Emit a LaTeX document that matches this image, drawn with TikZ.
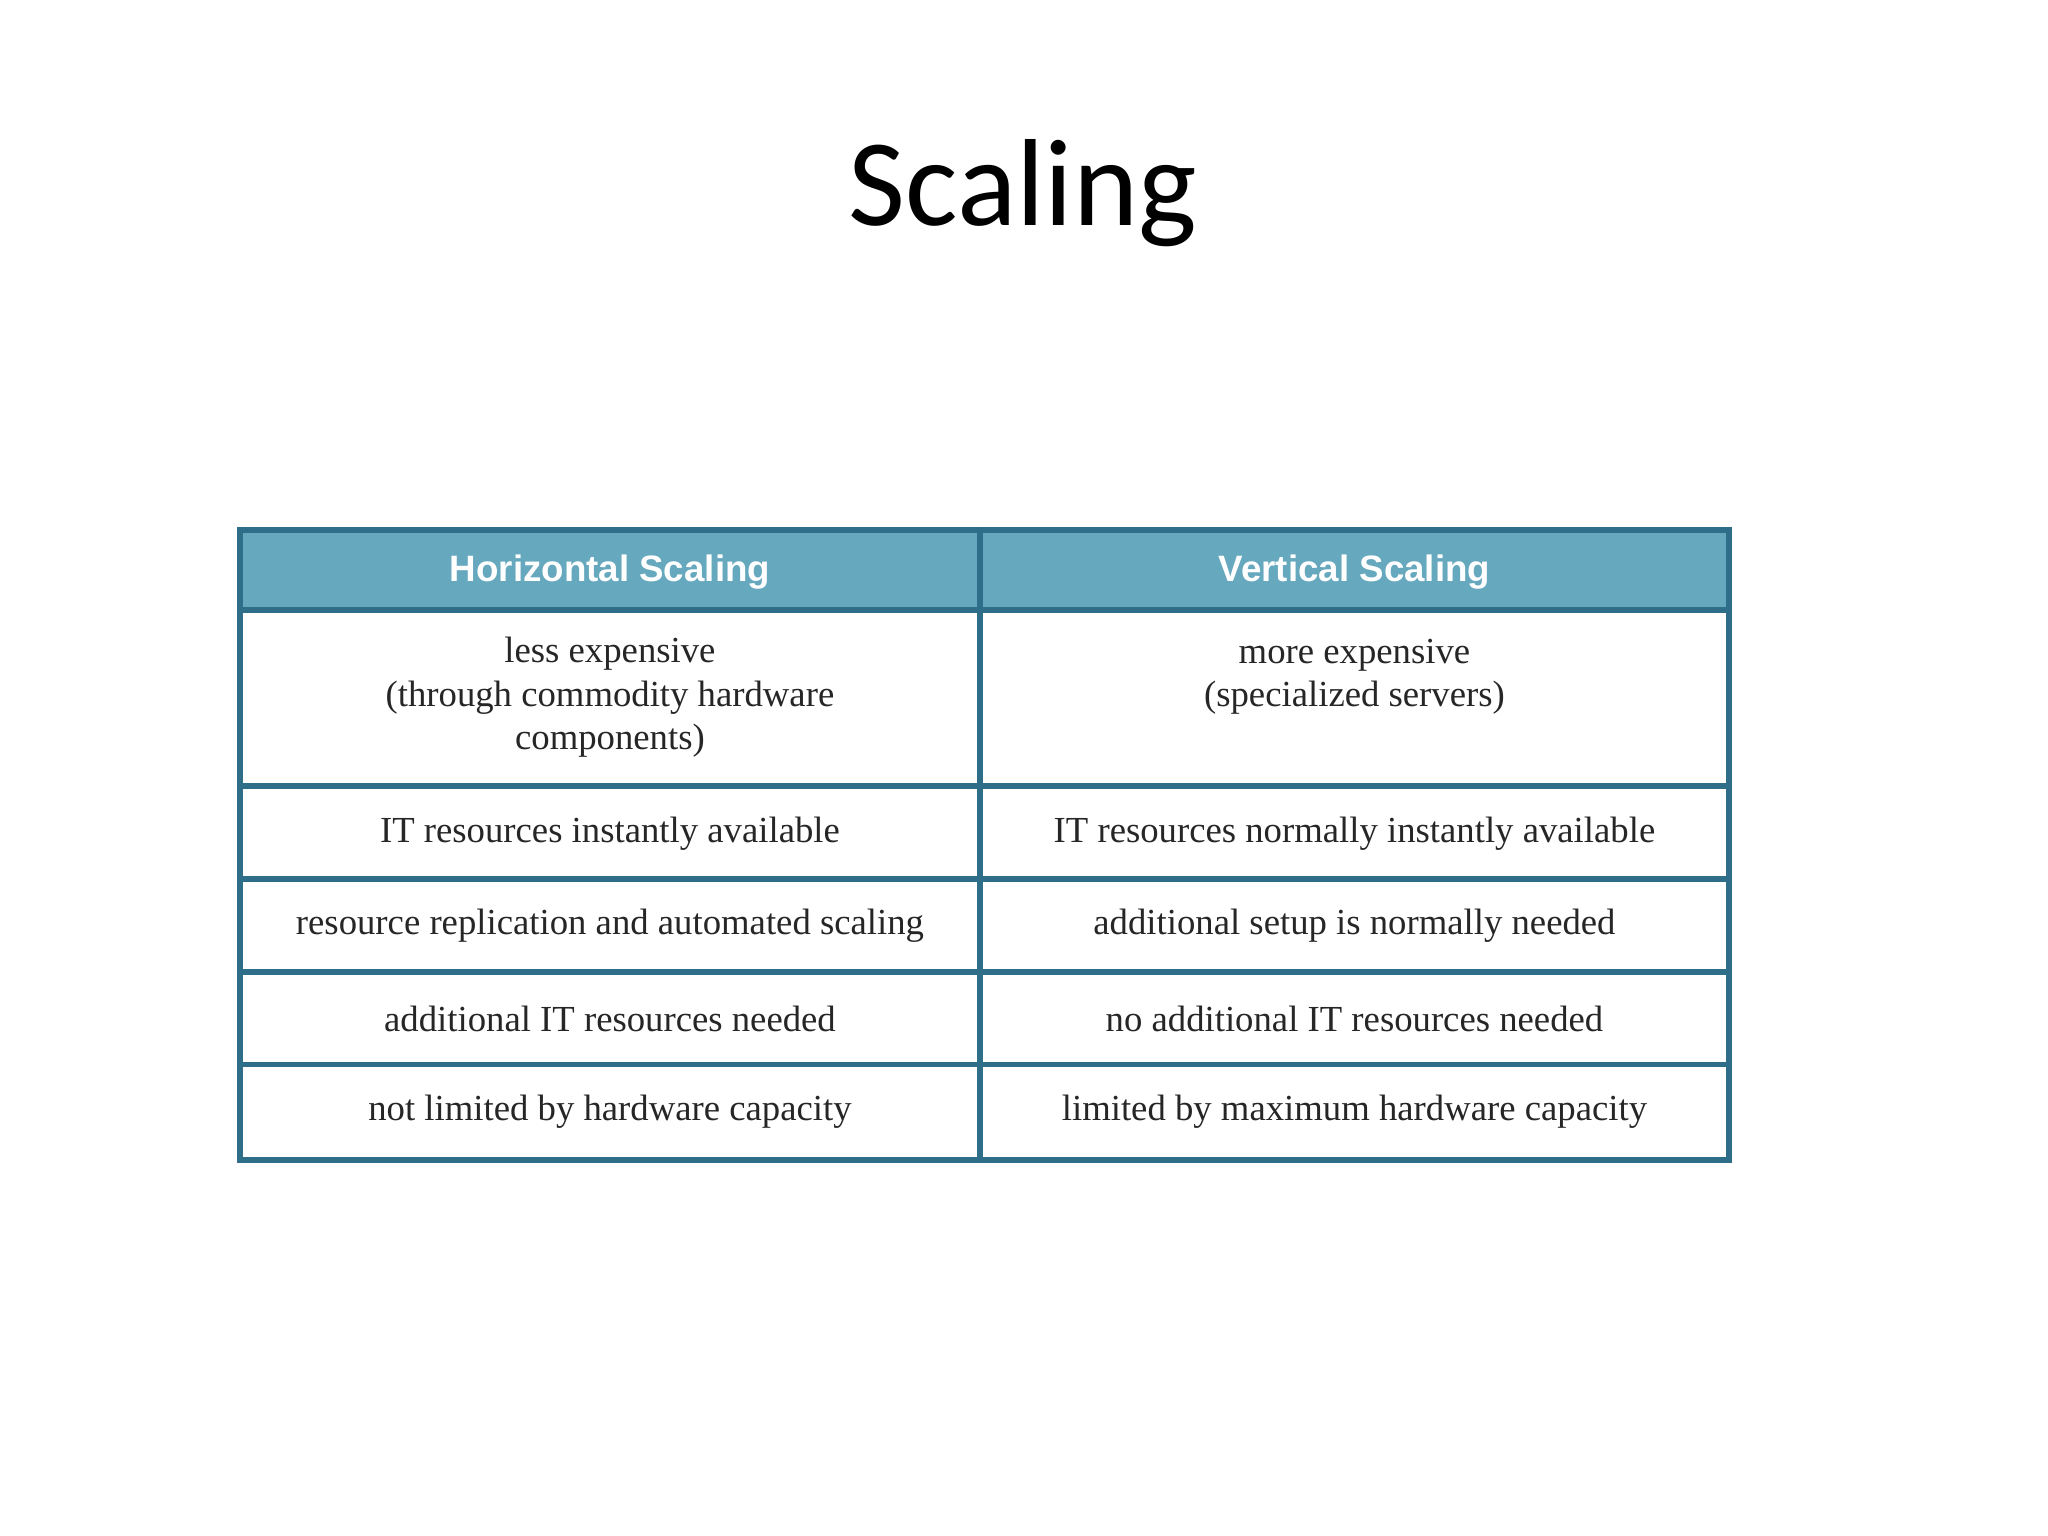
\documentclass[tikz,border=0pt]{standalone}
\usepackage{fontspec}
\setmainfont{Liberation Serif}
\newfontfamily\titlefont{Carlito}
\newfontfamily\headfont{Liberation Sans}
\definecolor{hdfill}{HTML}{66A8BE}
\definecolor{bord}{HTML}{2F6E88}
\begin{document}
\begin{tikzpicture}[x=0.02cm,y=-0.02cm,
  cell/.style={align=center,font=\fontsize{16}{19}\selectfont,text=black!85},
  head/.style={font=\headfont\bfseries\fontsize{16}{19}\selectfont,text=white}]
\useasboundingbox (0,0) rectangle (1568,1176);
\node[font=\titlefont\fontsize{54}{60}\selectfont] (title) at (783,148) {Scaling};
\fill[hdfill] (184,406) rectangle (1324,467);
\draw[bord,line width=0.09cm] (184,406) rectangle (1324,888);
\foreach \y in {467,602,673,744,815} \draw[bord,line width=0.09cm] (184,\y) -- (1324,\y);
\draw[bord,line width=0.09cm] (750,406) -- (750,888);
\node[head] (h1) at (467,438) {Horizontal Scaling};
\node[head] (h2) at (1037,438) {Vertical Scaling};
\node[cell] (a1) at (467,534) {less expensive\\(through commodity hardware\\components)};
\node[cell] (b1) at (1037,518) {more expensive\\(specialized servers)};
\node[cell] (a2) at (467,638) {IT resources instantly available};
\node[cell] (b2) at (1037,638) {IT resources normally instantly available};
\node[cell] (a3) at (467,709) {resource replication and automated scaling};
\node[cell] (b3) at (1037,709) {additional setup is normally needed};
\node[cell] (a4) at (467,780) {additional IT resources needed};
\node[cell] (b4) at (1037,780) {no additional IT resources needed};
\node[cell] (a5) at (467,851) {not limited by hardware capacity};
\node[cell] (b5) at (1037,851) {limited by maximum hardware capacity};
\end{tikzpicture}
\end{document}
